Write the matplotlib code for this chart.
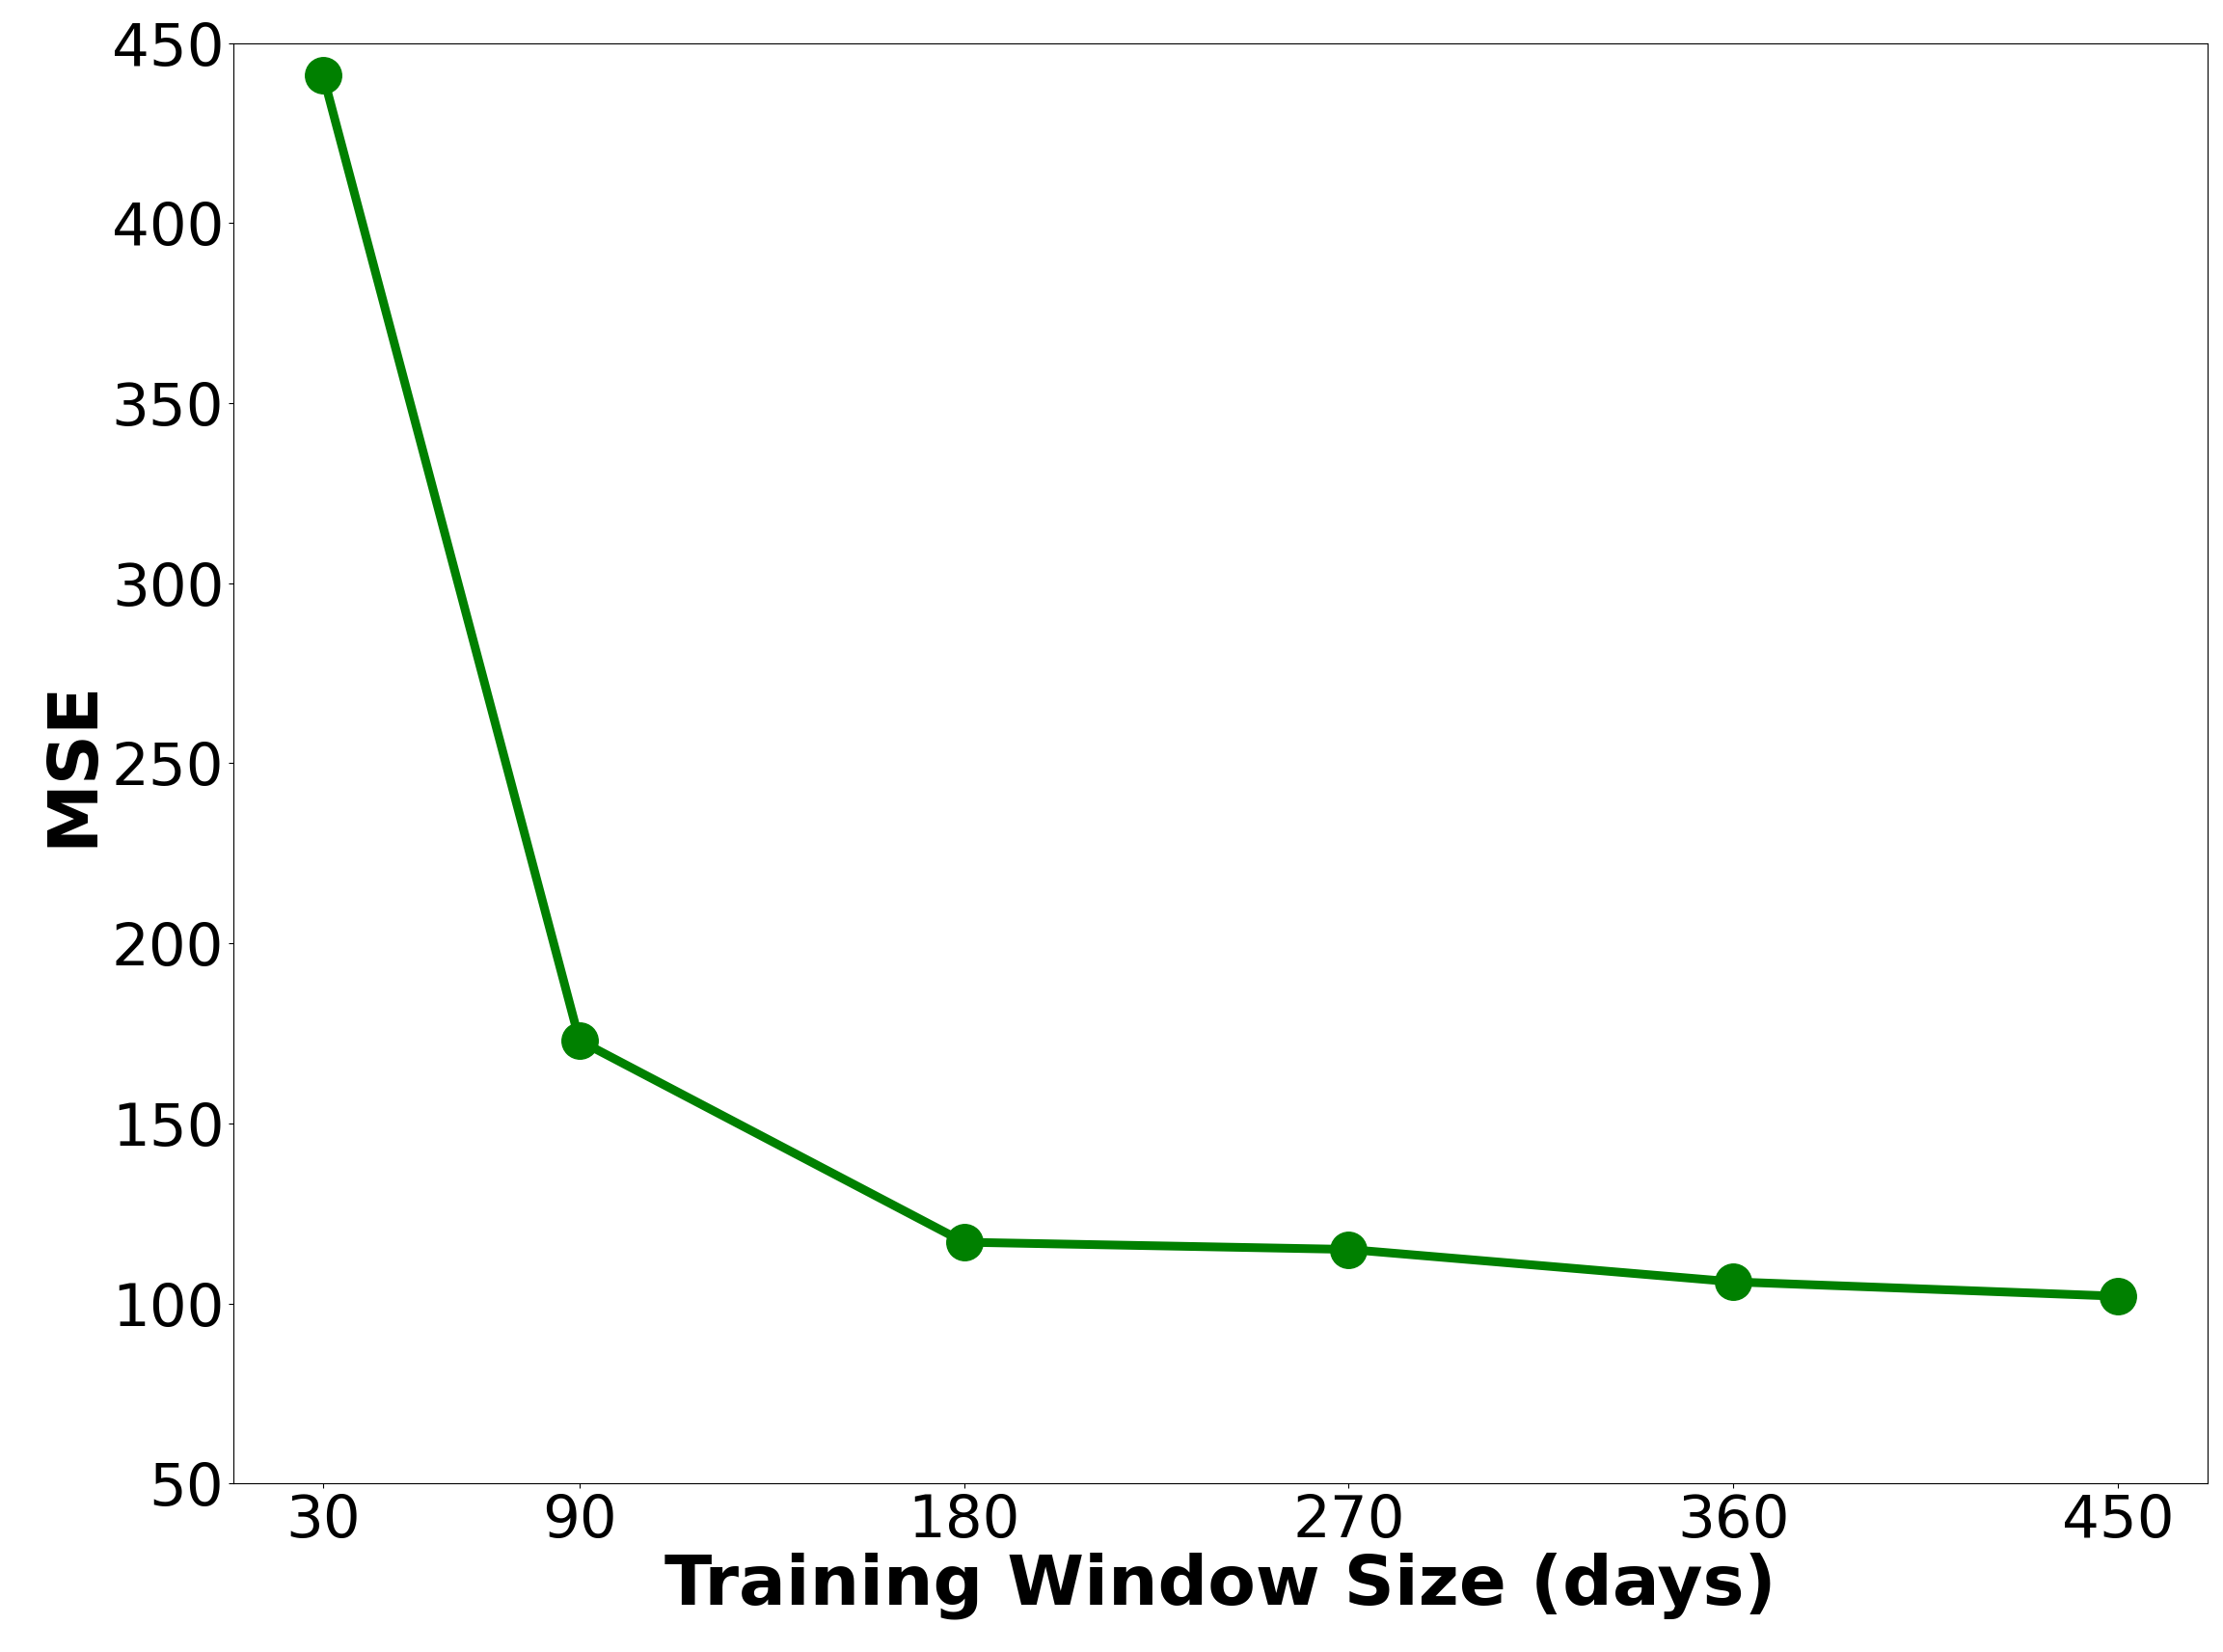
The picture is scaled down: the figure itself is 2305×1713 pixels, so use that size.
import matplotlib
matplotlib.use("Agg")
import matplotlib.pyplot as plt

window_days = [30, 90, 180, 270, 360, 450]
mse = [441, 173, 117, 115, 106, 102]

fig = plt.figure(figsize=(23.05, 17.13), dpi=100)
ax = fig.add_axes([0.105, 0.102, 0.888, 0.872])
ax.plot(window_days, mse, color="green", linewidth=6.5, marker="o", markersize=27)
ax.set_xticks(window_days)
ax.set_ylim(50, 450)
ax.tick_params(labelsize=44)
ax.set_xlabel("Training Window Size (days)", fontsize=52, fontweight="bold", labelpad=2)
ax.set_ylabel("MSE", fontsize=52, fontweight="bold")
fig.savefig("out.png", dpi=100)
